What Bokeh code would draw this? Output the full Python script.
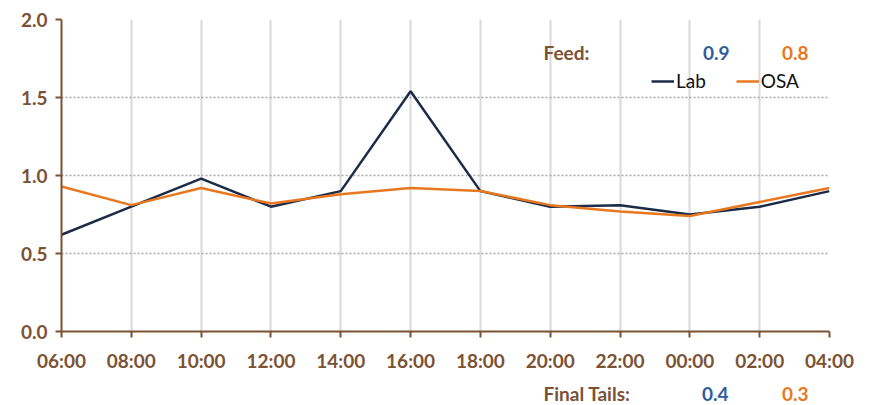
from bokeh.plotting import figure
from bokeh.models import Range1d, FixedTicker, Label, Legend, LegendItem
from bokeh.layouts import column
from bokeh.embed import file_html
from bokeh.resources import INLINE

times = ["06:00", "08:00", "10:00", "12:00", "14:00", "16:00",
         "18:00", "20:00", "22:00", "00:00", "02:00", "04:00"]
lab = [0.62, 0.80, 0.98, 0.80, 0.90, 1.54, 0.90, 0.80, 0.81, 0.75, 0.80, 0.90]
osa = [0.93, 0.81, 0.92, 0.82, 0.88, 0.92, 0.90, 0.81, 0.77, 0.74, 0.83, 0.92]
y_ticks = [0.0, 0.5, 1.0, 1.5, 2.0]
feed_lab, feed_osa = 0.9, 0.8
tails_lab, tails_osa = 0.4, 0.3

BROWN = "#7B5234"
NAVY = "#1C2B48"
ORANGE = "#E8781F"
BLUE = "#2E5D9A"
FONT = "Lato"
FS = "19px"

xs = list(range(len(times)))

p = figure(width=866, height=376, output_backend="svg", toolbar_location=None,
           x_range=Range1d(0, len(times) - 1), y_range=Range1d(0, 2))
p.min_border_left = 61
p.min_border_right = 37
p.min_border_top = 19
p.min_border_bottom = 45
p.outline_line_color = None
p.background_fill_color = "white"
p.border_fill_color = "white"

r_lab = p.line(xs, lab, line_color=NAVY, line_width=2.5)
r_osa = p.line(xs, osa, line_color=ORANGE, line_width=2.5)

# axes
p.xaxis.ticker = FixedTicker(ticks=xs)
p.xaxis.major_label_overrides = {i: t for i, t in enumerate(times)}
p.yaxis.ticker = FixedTicker(ticks=y_ticks)
p.yaxis.major_label_overrides = {v: f"{v:.1f}" for v in y_ticks}
for ax in (p.xaxis, p.yaxis):
    ax.axis_line_color = BROWN
    ax.axis_line_width = 2
    ax.major_tick_line_color = BROWN
    ax.major_tick_line_width = 2
    ax.major_tick_out = 6
    ax.major_tick_in = 0
    ax.minor_tick_line_color = None
    ax.major_label_text_color = BROWN
    ax.major_label_text_font = FONT
    ax.major_label_text_font_style = "bold"
    ax.major_label_text_font_size = FS
p.yaxis.major_label_standoff = 8
p.xaxis.major_label_standoff = 11

# grids
p.xgrid.ticker = FixedTicker(ticks=xs)
p.xgrid.grid_line_color = "#D9D9D9"
p.xgrid.grid_line_width = 2
p.ygrid.ticker = FixedTicker(ticks=y_ticks)
p.ygrid.grid_line_color = "#A8A8A8"
p.ygrid.grid_line_width = 1.5
p.ygrid.grid_line_dash = "2 2"

# legend
legend = Legend(items=[LegendItem(label="Lab", renderers=[r_lab]),
                       LegendItem(label="OSA", renderers=[r_osa])],
                location=(590, 239), orientation="horizontal",
                border_line_color=None, background_fill_alpha=0,
                padding=0, margin=0, spacing=30,
                glyph_width=23, glyph_height=20, label_height=20,
                label_standoff=2,
                label_text_font=FONT, label_text_font_size=FS,
                label_text_color="#111111")
p.add_layout(legend, "center")

def lbl(fig, x, y, text, color, align="left"):
    fig.add_layout(Label(x=x, y=y, x_units="screen", y_units="screen", text=text,
                         text_color=color, text_font=FONT, text_font_style="bold",
                         text_font_size=FS, text_align=align,
                         text_baseline="middle"))

lbl(p, 482, 279, "Feed:", BROWN)
lbl(p, 668, 279, f"{feed_lab:.1f}", BLUE, "right")
lbl(p, 747, 279, f"{feed_osa:.1f}", ORANGE, "right")

# footer strip with final tails values (frame aligned with the main plot)
q = figure(width=866, height=28, output_backend="svg", toolbar_location=None,
           x_range=Range1d(0, 1), y_range=Range1d(0, 1))
q.min_border_left = 61
q.min_border_right = 37
q.min_border_top = 0
q.min_border_bottom = 0
q.axis.visible = False
q.grid.visible = False
q.outline_line_color = None
q.border_fill_color = "white"
q.background_fill_alpha = 0

lbl(q, 482, 11, "Final Tails:", BROWN)
lbl(q, 667, 11, f"{tails_lab:.1f}", BLUE, "right")
lbl(q, 747, 11, f"{tails_osa:.1f}", ORANGE, "right")

layout = column(p, q, spacing=0)
open("out.html", "w").write(file_html(layout, INLINE))
